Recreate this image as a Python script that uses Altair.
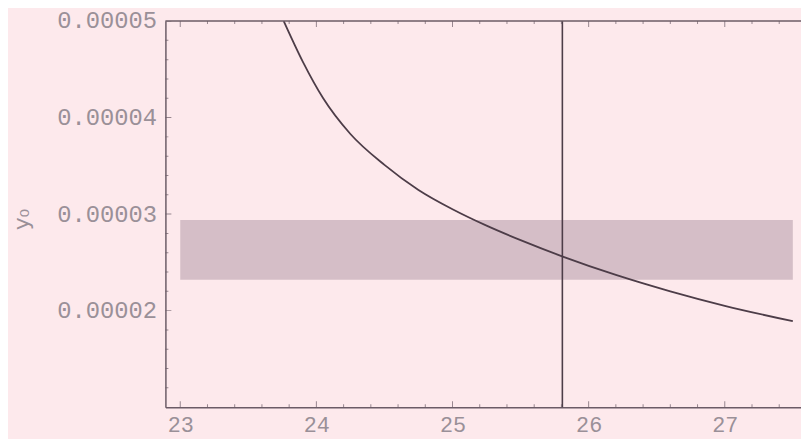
import altair as alt
import pandas as pd

# ---- data ----
curve_x = [23.76, 23.90, 24.05, 24.25, 24.50, 24.75, 25.00, 25.25, 25.50, 25.81, 26.20, 26.60, 27.00, 27.50]
curve_y = [5.00e-5, 4.58e-5, 4.20e-5, 3.83e-5, 3.51e-5, 3.25e-5, 3.05e-5, 2.88e-5, 2.73e-5,
           2.56e-5, 2.37e-5, 2.20e-5, 2.05e-5, 1.89e-5]

band_x = [23.0, 27.5]
band_y = [2.32e-5, 2.94e-5]
vline_x = [25.807]

x_ticks = [23, 24, 25, 26, 27]
x_minor = [round(23 + 0.2 * i, 2) for i in range(0, 23) if i % 5 != 0]
y_ticks = [2e-5, 3e-5, 4e-5, 5e-5]
y_minor = [round((1 + 0.2 * i) * 1e-5, 8) for i in range(1, 20) if i % 5 != 0]

x_dom = [22.891, 27.560]
y_dom = [1e-5, 5e-5]

BG = "#fde9ec"
INK = "#4d3d48"
FRAME = "#6b5b66"
LABEL = "#9a9098"
BAND = "#d5bec7"

xs = alt.Scale(domain=x_dom, nice=False, zero=False)
ys = alt.Scale(domain=y_dom, nice=False, zero=False)

curve_df = pd.DataFrame({"x": curve_x, "y": curve_y})
band_df = pd.DataFrame({"x": [band_x[0]], "x2": [band_x[1]], "y": [band_y[0]], "y2": [band_y[1]]})
vline_df = pd.DataFrame({"x": vline_x})

xaxis = alt.Axis(values=x_ticks, format="d", ticks=False, grid=False,
                 labelFont="Liberation Mono", labelFontSize=22, labelColor=LABEL,
                 labelPadding=8, domainColor=FRAME, domainWidth=1.5, title=None)
yaxis = alt.Axis(values=y_ticks, format=".5f", ticks=False, grid=False,
                 labelFont="Liberation Mono", labelFontSize=24, labelColor=LABEL,
                 labelPadding=9, domainColor=FRAME, domainWidth=1.5,
                 title="y₀", titleFont="DejaVu Sans", titleFontSize=22,
                 titleFontWeight="normal", titleColor=LABEL, titleAngle=-90,
                 titleX=-145, titleY=200, titleAlign="center", titleBaseline="middle")

band = alt.Chart(band_df).mark_rect(color=BAND, opacity=1).encode(
    x=alt.X("x:Q", scale=xs, axis=xaxis), x2="x2:Q",
    y=alt.Y("y:Q", scale=ys, axis=yaxis), y2="y2:Q")

curve = alt.Chart(curve_df).mark_line(color=INK, strokeWidth=1.8, interpolate="monotone", clip=True).encode(
    x=alt.X("x:Q", scale=xs), y=alt.Y("y:Q", scale=ys))

vline = alt.Chart(vline_df).mark_rule(color=INK, strokeWidth=1.6).encode(
    x=alt.X("x:Q", scale=xs))

top = alt.Chart(pd.DataFrame({"a": [0]})).mark_rule(color=FRAME, strokeWidth=1.5).encode(
    x=alt.datum(x_dom[0], scale=xs), x2=alt.datum(x_dom[1]), y=alt.datum(y_dom[1], scale=ys))

def xt(vals, yv, size):
    return alt.Chart(pd.DataFrame({"v": vals})).mark_tick(
        color=FRAME, thickness=1, size=size, orient="vertical", clip=True).encode(
        x=alt.X("v:Q", scale=xs), y=alt.datum(yv, scale=ys))

def yt(vals, xv, size):
    return alt.Chart(pd.DataFrame({"v": vals})).mark_tick(
        color=FRAME, thickness=1, size=size, orient="horizontal", clip=True).encode(
        y=alt.Y("v:Q", scale=ys), x=alt.datum(xv, scale=xs))

ticks = [xt(x_ticks, y_dom[0], 12), xt(x_minor, y_dom[0], 6),
         xt(x_ticks, y_dom[1], 12), xt(x_minor, y_dom[1], 6),
         yt(y_ticks, x_dom[0], 12), yt(y_minor, x_dom[0], 6)]

chart = alt.layer(band, curve, vline, top, *ticks).properties(
    width=642, height=390, background=BG,
    autosize=alt.AutoSizeParams(type="none"),
    padding={"left": 159, "top": 11, "right": 0, "bottom": 30},
).configure_view(stroke=None)

chart.save("out.html", embed_options={"renderer": "svg", "actions": False})
